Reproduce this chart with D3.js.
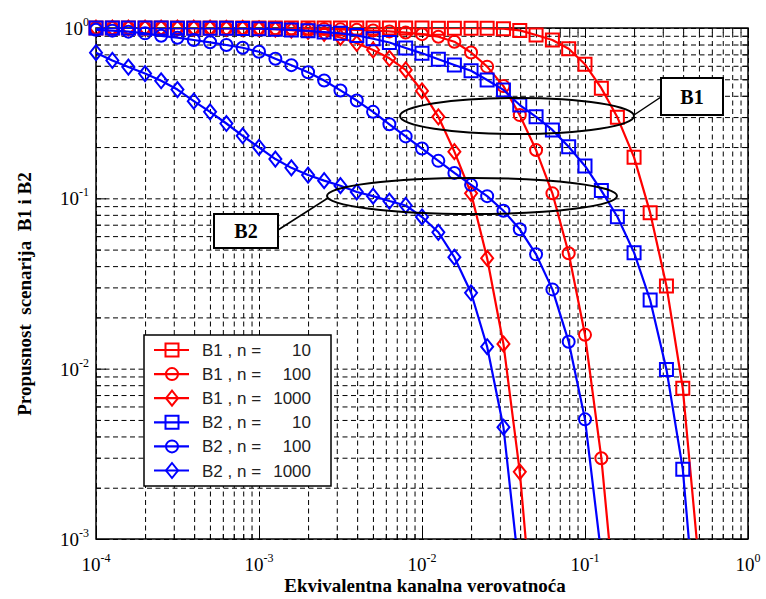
<!DOCTYPE html>
<html>
<head>
<meta charset="utf-8">
<script src="https://cdn.jsdelivr.net/npm/d3@7"></script>
<style>
	body { margin: 0; background: #fff; }
	svg { display: block; }
</style>
</head>
<body>
<svg></svg>
<script>
// sample points (0.1 decade apart)
var xValues = [
	1.00e-4, 1.26e-4, 1.58e-4, 2.00e-4, 2.51e-4, 3.16e-4, 3.98e-4, 5.01e-4, 6.31e-4, 7.94e-4,
	1.00e-3, 1.26e-3, 1.58e-3, 2.00e-3, 2.51e-3, 3.16e-3, 3.98e-3, 5.01e-3, 6.31e-3, 7.94e-3,
	1.00e-2, 1.26e-2, 1.58e-2, 2.00e-2, 2.51e-2, 3.16e-2, 3.98e-2, 5.01e-2, 6.31e-2, 7.94e-2,
	0.100, 0.126, 0.158, 0.200, 0.251, 0.316, 0.398, 0.501
];

var b1n10 = [1, 1, 1, 1, 1, 1, 1, 1, 1, 1, 1, 1, 1, 1, 1, 1, 1, 1, 0.999, 0.999,
	0.999, 0.998, 0.998, 0.997, 0.995, 0.99, 0.968, 0.91, 0.85, 0.755,
	0.612, 0.443, 0.299, 0.174, 0.0824, 0.0306, 0.00767, 0.0007];
var b1n100 = [1, 1, 1, 1, 1, 0.999, 0.999, 0.999, 0.998, 0.997,
	0.996, 0.995, 0.993, 0.99, 0.987, 0.982, 0.975, 0.967, 0.955, 0.94,
	0.92, 0.889, 0.831, 0.718, 0.593, 0.456, 0.308, 0.192, 0.107, 0.0476,
	0.0158, 0.00298, 0.0003];
var b1n1000 = [1, 1, 1, 1, 1, 0.999, 0.998, 0.997, 0.996, 0.994,
	0.99, 0.983, 0.972, 0.955, 0.93, 0.88, 0.813, 0.743, 0.664, 0.567,
	0.427, 0.301, 0.188, 0.107, 0.0445, 0.01396, 0.00248, 0.0002];
var b2n10 = [1, 1, 1, 1, 0.999, 0.998, 0.997, 0.996, 0.995, 0.993,
	0.99, 0.983, 0.974, 0.962, 0.947, 0.93, 0.905, 0.865, 0.822, 0.763,
	0.71, 0.655, 0.606, 0.561, 0.495, 0.433, 0.353, 0.301, 0.252, 0.201,
	0.155, 0.111, 0.078, 0.048, 0.0253, 0.0099, 0.00257, 0.0002];
var b2n100 = [0.975, 0.965, 0.952, 0.93, 0.9, 0.877, 0.85, 0.824, 0.795, 0.766,
	0.725, 0.66, 0.605, 0.55, 0.492, 0.43, 0.375, 0.322, 0.272, 0.231,
	0.196, 0.166, 0.141, 0.12, 0.103, 0.0846, 0.0658, 0.0469, 0.0292, 0.0144,
	0.00504, 0.0008];
var b2n1000 = [0.716, 0.645, 0.59, 0.54, 0.49, 0.435, 0.372, 0.322, 0.275, 0.233,
	0.199, 0.17, 0.151, 0.137, 0.127, 0.1186, 0.109, 0.103, 0.0964, 0.0908,
	0.0777, 0.0632, 0.0451, 0.0279, 0.01345, 0.00453, 0.0006];

var seriesData = [b1n10, b1n100, b1n1000, b2n10, b2n100, b2n1000];
var seriesLabels = ["B1 , n =", "B1 , n =", "B1 , n =", "B2 , n =", "B2 , n =", "B2 , n ="];
var seriesN = ["10", "100", "1000", "10", "100", "1000"];
var seriesColors = ["#ff0000", "#ff0000", "#ff0000", "#0000ff", "#0000ff", "#0000ff"];
var seriesMarkers = ["square", "circle", "diamond", "square", "circle", "diamond"];

var xTickExps = [-4, -3, -2, -1, 0];
var yTickExps = [-3, -2, -1, 0];

var plot = { left: 96, right: 748, top: 28, bottom: 539 };

var x = d3.scaleLog().domain([1e-4, 1]).range([plot.left, plot.right]);
var y = d3.scaleLog().domain([1e-3, 1]).range([plot.bottom, plot.top]);

var svg = d3.select("svg")
	.attr("width", 766)
	.attr("height", 599);

svg.append("rect")
	.attr("width", 766)
	.attr("height", 599)
	.attr("fill", "#fff");

svg.append("defs")
	.append("clipPath")
	.attr("id", "plot-clip")
	.append("rect")
	.attr("x", plot.left)
	.attr("y", plot.top)
	.attr("width", plot.right - plot.left)
	.attr("height", plot.bottom - plot.top);

var isMajor = function(v) {
	return Math.abs(Math.log10(v) - Math.round(Math.log10(v))) < 1e-6;
};

// dashed grid, major and minor
svg.append("g")
	.attr("class", "x-grid")
	.attr("transform", "translate(0," + plot.bottom + ")")
	.call(d3.axisBottom(x).tickSize(-(plot.bottom - plot.top)).tickFormat(""));
svg.append("g")
	.attr("class", "y-grid")
	.attr("transform", "translate(" + plot.left + ",0)")
	.call(d3.axisLeft(y).tickSize(-(plot.right - plot.left)).tickFormat(""));

svg.selectAll(".x-grid path, .y-grid path").remove();
svg.selectAll(".x-grid line, .y-grid line")
	.attr("stroke", "#000")
	.attr("stroke-width", 1)
	.attr("stroke-dasharray", "5,3.5");

// inner tick marks on all four sides
var tickAxes = [
	{ axis: d3.axisBottom(x), t: "translate(0," + plot.bottom + ")" },
	{ axis: d3.axisTop(x), t: "translate(0," + plot.top + ")" },
	{ axis: d3.axisLeft(y), t: "translate(" + plot.left + ",0)" },
	{ axis: d3.axisRight(y), t: "translate(" + plot.right + ",0)" }
];
tickAxes.forEach(function(a) {
	var g = svg.append("g")
		.attr("class", "tick-axis")
		.attr("transform", a.t)
		.call(a.axis.tickSize(-5).tickFormat(""));
	g.select("path").remove();
	g.selectAll(".tick line")
		.attr("stroke", "#000")
		.attr("stroke-width", 1)
		.each(function(d) {
			if (isMajor(d)) {
				var l = d3.select(this);
				if (l.attr("y2") !== null && +l.attr("y2") !== 0) l.attr("y2", +l.attr("y2") * 2);
				if (l.attr("x2") !== null && +l.attr("x2") !== 0) l.attr("x2", +l.attr("x2") * 2);
			}
		});
});

svg.append("rect")
	.attr("x", plot.left)
	.attr("y", plot.top)
	.attr("width", plot.right - plot.left)
	.attr("height", plot.bottom - plot.top)
	.attr("fill", "none")
	.attr("stroke", "#000")
	.attr("stroke-width", 1.5);

// tick labels 10^k
var serif = "'Liberation Serif', 'Times New Roman', serif";

var xLab = svg.append("g").attr("class", "x-labels");
xTickExps.forEach(function(e) {
	var t = xLab.append("text")
		.attr("x", x(Math.pow(10, e)))
		.attr("y", 571)
		.attr("text-anchor", "middle")
		.attr("font-family", serif)
		.attr("font-size", 19)
		.attr("fill", "#000");
	t.append("tspan").text("10");
	t.append("tspan").attr("dy", -9).attr("font-size", 12).text(e === 0 ? "0" : e);
});

var yLab = svg.append("g").attr("class", "y-labels");
yTickExps.forEach(function(e) {
	var t = yLab.append("text")
		.attr("x", 89)
		.attr("y", y(Math.pow(10, e)) + 7)
		.attr("text-anchor", "end")
		.attr("font-family", serif)
		.attr("font-size", 19)
		.attr("fill", "#000");
	t.append("tspan").text("10");
	t.append("tspan").attr("dy", -9).attr("font-size", 12).text(e === 0 ? "0" : e);
});

svg.append("text")
	.attr("x", 425)
	.attr("y", 592)
	.attr("text-anchor", "middle")
	.attr("font-family", serif)
	.attr("font-weight", "bold")
	.attr("font-size", 19)
	.text("Ekvivalentna kanalna verovatnoća");

svg.append("text")
	.attr("transform", "translate(31,294) rotate(-90)")
	.attr("text-anchor", "middle")
	.attr("font-family", serif)
	.attr("font-weight", "bold")
	.attr("font-size", 19)
	.style("white-space", "pre")
	.text("Propusnost  scenarija  B1 i B2");

// markers
function markerPath(type, cx, cy) {
	if (type === "square") {
		return "M" + (cx - 6.5) + "," + (cy - 6.5) + "h13v13h-13Z";
	} else if (type === "circle") {
		return "M" + (cx - 6) + "," + cy + "a6,6 0 1,0 12,0a6,6 0 1,0 -12,0Z";
	}
	return "M" + cx + "," + (cy - 7.5) + "L" + (cx + 6) + "," + cy +
		"L" + cx + "," + (cy + 7.5) + "L" + (cx - 6) + "," + cy + "Z";
}

var line = d3.line()
	.x(function(d, i) { return x(xValues[i]); })
	.y(function(d) { return y(d); });

var seriesG = svg.append("g").attr("class", "series");
seriesData.forEach(function(data, s) {
	var g = seriesG.append("g");
	g.append("path")
		.attr("d", line(data))
		.attr("clip-path", "url(#plot-clip)")
		.attr("fill", "none")
		.attr("stroke", seriesColors[s])
		.attr("stroke-width", 2.2)
		.attr("stroke-linejoin", "round");
	var pts = data
		.map(function(v, i) { return { x: xValues[i], v: v }; })
		.filter(function(d) { return d.v >= 1e-3; });
	g.selectAll(".marker")
		.data(pts)
		.enter()
		.append("path")
		.attr("class", "marker")
		.attr("d", function(d) { return markerPath(seriesMarkers[s], x(d.x), y(d.v)); })
		.attr("fill", "none")
		.attr("stroke", seriesColors[s])
		.attr("stroke-width", 2);
});

// annotation ellipses and boxes
var ann = svg.append("g").attr("class", "annotations");
ann.append("ellipse")
	.attr("cx", 517).attr("cy", 116).attr("rx", 117).attr("ry", 18)
	.attr("fill", "none").attr("stroke", "#000").attr("stroke-width", 2);
ann.append("ellipse")
	.attr("cx", 472).attr("cy", 196).attr("rx", 145).attr("ry", 18)
	.attr("fill", "none").attr("stroke", "#000").attr("stroke-width", 2);
ann.append("line")
	.attr("x1", 634).attr("y1", 115).attr("x2", 661).attr("y2", 97)
	.attr("stroke", "#000").attr("stroke-width", 1.5);
ann.append("line")
	.attr("x1", 278).attr("y1", 230).attr("x2", 328).attr("y2", 198)
	.attr("stroke", "#000").attr("stroke-width", 1.5);

var boxes = [
	{ label: "B1", x: 661, y: 78, w: 62, h: 37 },
	{ label: "B2", x: 214, y: 214, w: 64, h: 34 }
];
boxes.forEach(function(b) {
	ann.append("rect")
		.attr("x", b.x).attr("y", b.y).attr("width", b.w).attr("height", b.h)
		.attr("fill", "#fff").attr("stroke", "#000").attr("stroke-width", 2);
	ann.append("text")
		.attr("x", b.x + b.w / 2)
		.attr("y", b.y + b.h / 2 + 7)
		.attr("text-anchor", "middle")
		.attr("font-family", serif)
		.attr("font-weight", "bold")
		.attr("font-size", 20)
		.text(b.label);
});

// legend
var legend = svg.append("g").attr("class", "legend");
legend.append("rect")
	.attr("x", 144).attr("y", 335).attr("width", 187).attr("height", 151)
	.attr("fill", "#fff").attr("stroke", "#000").attr("stroke-width", 1.5);

seriesLabels.forEach(function(lbl, s) {
	var ry = 350 + s * 24.1;
	legend.append("line")
		.attr("x1", 154).attr("x2", 189).attr("y1", ry).attr("y2", ry)
		.attr("stroke", seriesColors[s]).attr("stroke-width", 2.2);
	legend.append("path")
		.attr("d", markerPath(seriesMarkers[s], 172, ry))
		.attr("fill", "none")
		.attr("stroke", seriesColors[s])
		.attr("stroke-width", 2);
	legend.append("text")
		.attr("x", 202).attr("y", ry + 6)
		.attr("font-family", "'Liberation Sans', Arial, sans-serif")
		.attr("font-size", 17)
		.attr("fill", "#222")
		.style("white-space", "pre")
		.text(lbl);
	legend.append("text")
		.attr("x", 311).attr("y", ry + 6)
		.attr("text-anchor", "end")
		.attr("font-family", "'Liberation Sans', Arial, sans-serif")
		.attr("font-size", 17)
		.attr("fill", "#222")
		.text(seriesN[s]);
});
</script>
</body>
</html>
